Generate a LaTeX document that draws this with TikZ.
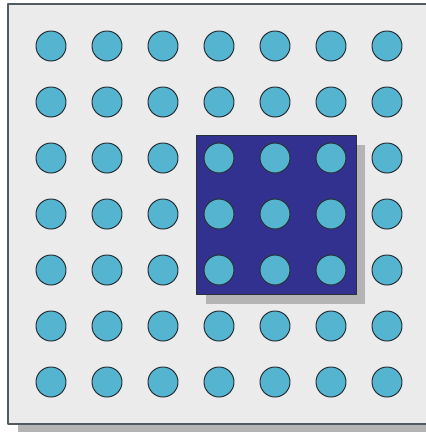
\documentclass[tikz,border=0pt]{standalone}
\definecolor{bgA}{HTML}{EBEBEB}
\definecolor{shA}{HTML}{B4B4B4}
\definecolor{dotA}{HTML}{55B5D1}
\definecolor{lnA}{HTML}{263238}
\definecolor{tileA}{HTML}{33318F}

\begin{document}
\begin{tikzpicture}[x=1pt,y=-1pt,line cap=round,line join=round,
  dot/.style={circle,fill=dotA,draw=lnA,line width=1pt,minimum size=30pt,inner sep=0pt},
  tile/.style={fill=tileA,draw=lnA,line width=0.9pt}]

  \clip (0,0) rectangle (426,432);
  \useasboundingbox (0,0) rectangle (426,432);

  % board with its shadow
  \fill[shA] (18,14) rectangle (445,437);
  \filldraw[fill=bgA,draw=lnA!80,line width=1.1pt] (8,4) rectangle (435,424);

  % raised tile
  \fill[shA] (206,145) rectangle (365,304);
  \draw[tile] (196,135) rectangle (356,294);

  % 7x7 holes
  \foreach \i in {0,...,6}
    \foreach \j in {0,...,6}
      \node[dot] (c-\i-\j) at (51+56*\i,46+56*\j) {};

\end{tikzpicture}
\end{document}
